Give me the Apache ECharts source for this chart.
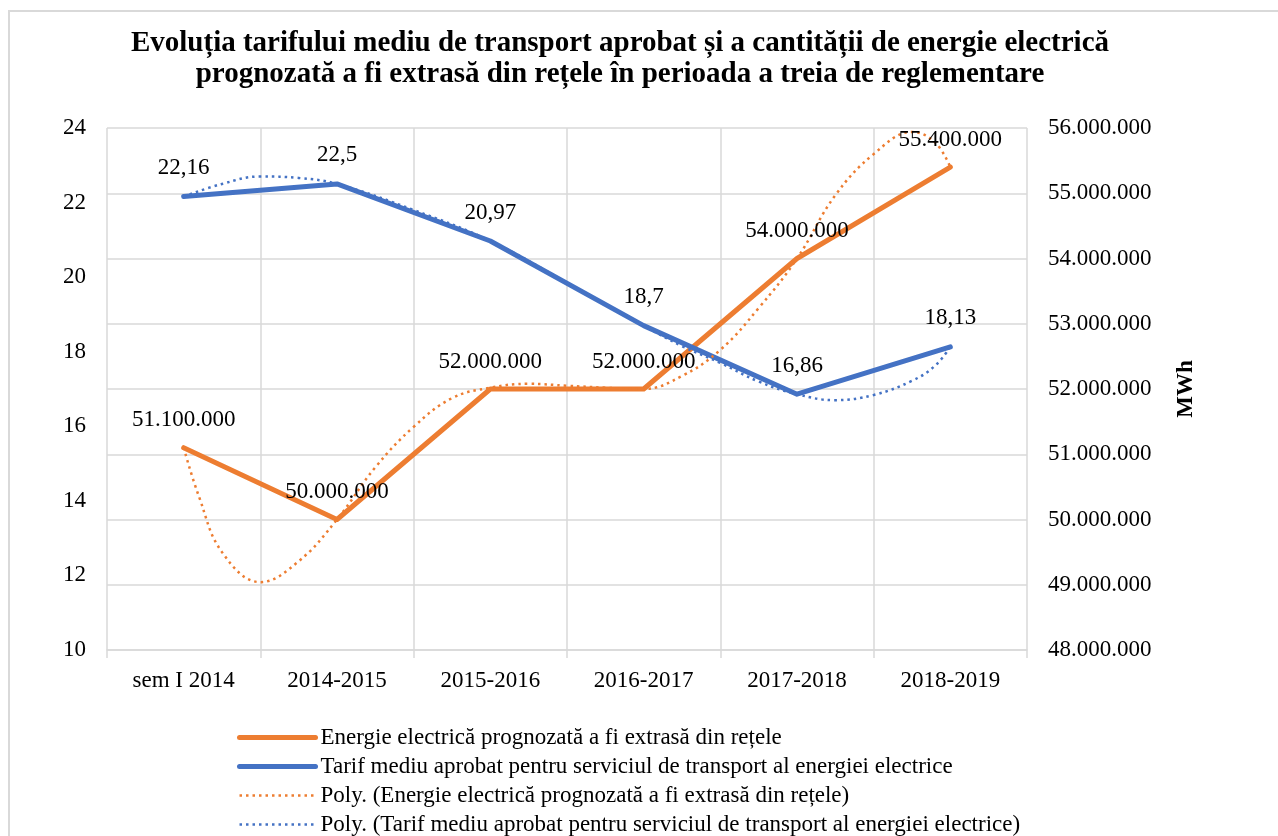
<!DOCTYPE html>
<html>
<head>
<meta charset="utf-8">
<script src="https://cdn.jsdelivr.net/npm/echarts@6/dist/echarts.min.js"></script>
<style>
  html, body { margin: 0; padding: 0; background: #fff; }
  #chart { width: 1278px; height: 836px; }
</style>
</head>
<body>
<div id="chart"></div>
<script>
// categories and values
var categories = ['sem I 2014', '2014-2015', '2015-2016', '2016-2017', '2017-2018', '2018-2019'];
var energie = [51100000, 50000000, 52000000, 52000000, 54000000, 55400000];
var tarif = [22.16, 22.5, 20.97, 18.7, 16.86, 18.13];

// polynomial trendlines (x in category units)
var energieTrendX = [0, 0.1, 0.25, 0.5, 0.75, 1, 1.25, 1.5, 1.75, 2, 2.25, 2.5, 2.75, 3, 3.25, 3.5, 3.75, 4, 4.25, 4.5, 4.75, 4.9, 5];
var energieTrendY = [51100000, 50350000, 49500000, 49040000, 49360000, 50000000, 50800000, 51420000, 51860000, 52020000, 52080000, 52050000, 52020000, 52000000, 52200000, 52600000, 53240000, 54000000, 54970000, 55600000, 55940000, 55780000, 55400000];
var tarifTrendX = [0, 0.25, 0.5, 0.75, 1, 1.5, 2, 2.5, 3, 3.25, 3.5, 3.75, 4, 4.25, 4.5, 4.75, 4.9, 5];
var tarifTrendY = [22.16, 22.5, 22.7, 22.66, 22.5, 21.8, 20.97, 19.85, 18.7, 18.15, 17.7, 17.2, 16.86, 16.7, 16.84, 17.22, 17.62, 18.13];

var leftTicks = { min: 10, max: 24, interval: 2 };
var rightTicks = { min: 48000000, max: 56000000, interval: 1000000 };

var names = [
    'Energie electrică prognozată a fi extrasă din rețele',
    'Tarif mediu aprobat pentru serviciul de transport al energiei electrice',
    'Poly. (Energie electrică prognozată a fi extrasă din rețele)',
    'Poly. (Tarif mediu aprobat pentru serviciul de transport al energiei electrice)'
];

var serif = 'Liberation Serif';
var gridColor = '#d9d9d9';
var orange = '#ED7D31';
var blue = '#4472C4';
var dotted = [2.5, 4];

function dots(v) {
    return String(v).replace(/\B(?=(\d{3})+(?!\d))/g, '.');
}
function comma(v) {
    return String(v).replace('.', ',');
}
function pairs(xs, ys) {
    return xs.map(function (x, i) { return [x, ys[i]]; });
}

var myChart = echarts.init(document.getElementById('chart'));

var option = {
    backgroundColor: '#fff',
    animation: false,
    title: {
        text: 'Evoluția tarifului mediu de transport aprobat și a cantității de energie electrică\nprognozată a fi extrasă din rețele în perioada a treia de reglementare',
        left: 615,
        textAlign: 'center',
        top: 23,
        textStyle: {
            fontFamily: serif,
            fontSize: 29,
            fontWeight: 'bold',
            color: '#000',
            lineHeight: 31
        }
    },
    graphic: [{
        type: 'rect',
        shape: { x: 9, y: 11, width: 1300, height: 900 },
        style: { fill: 'none', stroke: gridColor, lineWidth: 2 },
        silent: true
    }],
    legend: {
        orient: 'vertical',
        left: 237,
        top: 726,
        padding: 0,
        height: 300,
        itemWidth: 76,
        itemHeight: 14,
        itemGap: 6,
        itemStyle: { opacity: 0 },
        textStyle: { fontFamily: serif, fontSize: 23, color: '#000', lineHeight: 23 },
        data: [
            { name: names[0], lineStyle: { color: orange, width: 5 } },
            { name: names[1], lineStyle: { color: blue, width: 5 } },
            { name: names[2], lineStyle: { color: orange, width: 2.5, type: dotted } },
            { name: names[3], lineStyle: { color: blue, width: 2.5, type: dotted } }
        ]
    },
    grid: { left: 107, right: 251, top: 128, bottom: 186 },
    xAxis: [{
        type: 'category',
        data: categories,
        boundaryGap: true,
        axisLine: { lineStyle: { color: gridColor, width: 1.5 } },
        axisTick: { show: true, length: 8, lineStyle: { color: gridColor, width: 1.5 } },
        splitLine: { show: true, lineStyle: { color: gridColor, width: 1.5 } },
        axisLabel: { fontFamily: serif, fontSize: 23, color: '#000', margin: 19 }
    }, {
        type: 'value',
        min: -0.5,
        max: 5.5,
        show: false
    }],
    yAxis: [{
        type: 'value',
        position: 'left',
        min: leftTicks.min,
        max: leftTicks.max,
        interval: leftTicks.interval,
        axisLine: { show: false },
        axisTick: { show: false },
        splitLine: { show: false },
        axisLabel: { fontFamily: serif, fontSize: 23, color: '#000', margin: 21 }
    }, {
        type: 'value',
        position: 'right',
        min: rightTicks.min,
        max: rightTicks.max,
        interval: rightTicks.interval,
        name: 'MWh',
        nameLocation: 'middle',
        nameRotate: 90,
        nameGap: 148,
        nameTextStyle: { fontFamily: serif, fontSize: 23, fontWeight: 'bold', color: '#000' },
        axisLine: { show: false },
        axisTick: { show: false },
        splitLine: { show: true, lineStyle: { color: gridColor, width: 1.5 } },
        axisLabel: {
            fontFamily: serif, fontSize: 23, color: '#000', margin: 21,
            formatter: function (v) { return dots(v); }
        }
    }],
    series: [{
        name: names[0],
        type: 'line',
        xAxisIndex: 0,
        yAxisIndex: 1,
        data: energie,
        symbol: 'circle',
        symbolSize: 0,
        lineStyle: { color: orange, width: 5, cap: 'round', join: 'round' },
        itemStyle: { color: orange },
        label: {
            show: true, position: 'top', distance: 16,
            fontFamily: serif, fontSize: 23, color: '#000',
            formatter: function (p) { return dots(p.value); }
        }
    }, {
        name: names[1],
        type: 'line',
        xAxisIndex: 0,
        yAxisIndex: 0,
        data: tarif,
        symbol: 'circle',
        symbolSize: 0,
        lineStyle: { color: blue, width: 5, cap: 'round', join: 'round' },
        itemStyle: { color: blue },
        label: {
            show: true, position: 'top', distance: 17,
            fontFamily: serif, fontSize: 23, color: '#000',
            formatter: function (p) { return comma(p.value); }
        }
    }, {
        name: names[2],
        type: 'line',
        xAxisIndex: 1,
        yAxisIndex: 1,
        data: pairs(energieTrendX, energieTrendY),
        symbol: 'none',
        smooth: 0.4,
        lineStyle: { color: orange, width: 2.5, type: dotted },
        itemStyle: { color: orange }
    }, {
        name: names[3],
        type: 'line',
        xAxisIndex: 1,
        yAxisIndex: 0,
        data: pairs(tarifTrendX, tarifTrendY),
        symbol: 'none',
        smooth: 0.4,
        lineStyle: { color: blue, width: 2.5, type: dotted },
        itemStyle: { color: blue }
    }]
};

myChart.setOption(option);
</script>
</body>
</html>
